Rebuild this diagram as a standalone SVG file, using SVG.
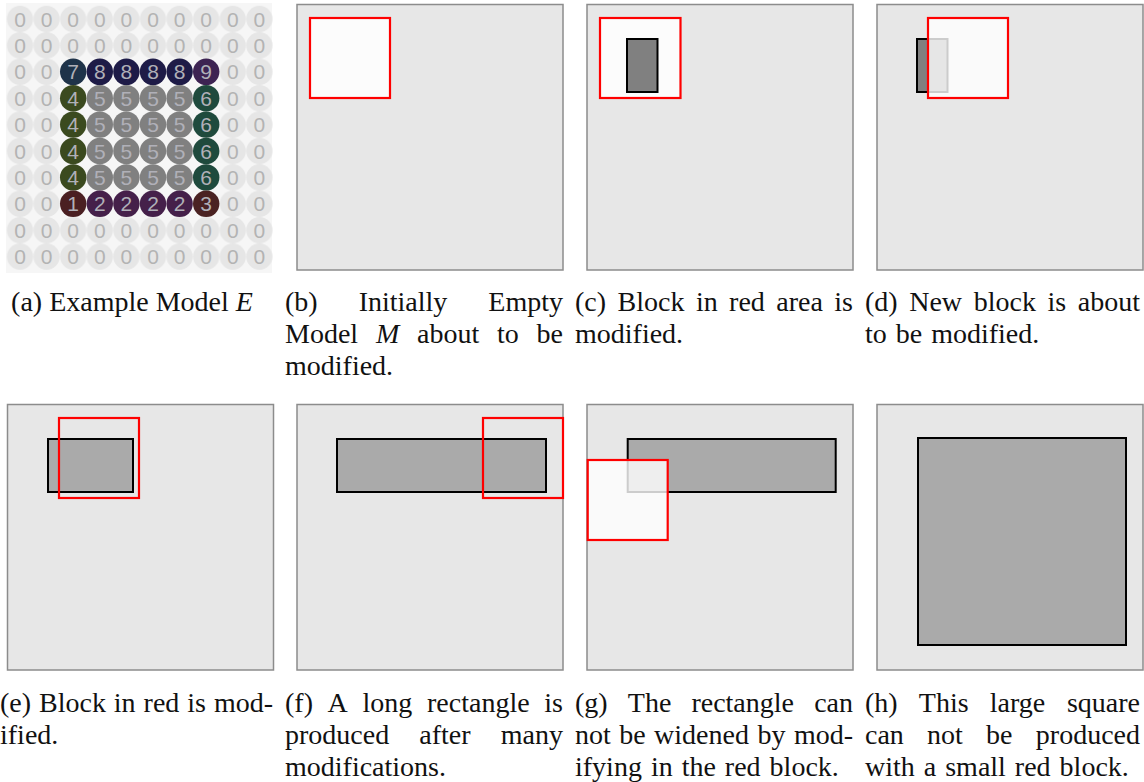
<svg xmlns="http://www.w3.org/2000/svg" width="1144" height="782" viewBox="0 0 1144 782">
<style>
.frame{fill:#e7e7e7;stroke:#8c8c8c;stroke-width:1.5}
.red{fill:none;stroke:#ff0000;stroke-width:2.2}
.redw{fill:#ffffff;fill-opacity:0.8;stroke:#ff0000;stroke-width:2.2}
.redf{fill:#fcfcfc;stroke:#ff0000;stroke-width:2.2}
.blk1{fill:#808080;stroke:#000;stroke-width:2}
.blk2{fill:#aaaaaa;stroke:#000;stroke-width:2}
.cap{font-family:"Liberation Serif","Times New Roman",serif;font-size:28px;fill:#111}
.ws{word-spacing:2px}
.dig{font-family:"Liberation Sans",Arial,sans-serif;font-size:21px;text-anchor:middle}
.zt{fill:#b3b3b3}
.ct{fill:#b0b0b8}
.c7{fill:#1f3349}.c8{fill:#1e1b47}.c9{fill:#3d2352}
.c4{fill:#3b4a1f}.c5{fill:#808080}.c6{fill:#1f4a3d}
.c1{fill:#4a1f22}.c2{fill:#45204a}.c3{fill:#4a2222}
</style>
<defs>
<pattern id="zp" patternUnits="userSpaceOnUse" x="6.7" y="5.8" width="26.6" height="26.4">
<circle cx="13.3" cy="13.2" r="13.1" fill="#e6e6e6"/>
</pattern>
</defs>

<g id="panel-a">
<rect x="6" y="3" width="266" height="270" fill="#f6f6f6"/>
<rect x="6.7" y="5.8" width="266" height="264" fill="url(#zp)"/>
<g>
<circle class="c7" cx="73.2" cy="71.8" r="13.2"/><circle class="c8" cx="99.8" cy="71.8" r="13.2"/><circle class="c8" cx="126.4" cy="71.8" r="13.2"/><circle class="c8" cx="153" cy="71.8" r="13.2"/><circle class="c8" cx="179.6" cy="71.8" r="13.2"/><circle class="c9" cx="206.2" cy="71.8" r="13.2"/>
<circle class="c4" cx="73.2" cy="98.2" r="13.2"/><circle class="c5" cx="99.8" cy="98.2" r="13.2"/><circle class="c5" cx="126.4" cy="98.2" r="13.2"/><circle class="c5" cx="153" cy="98.2" r="13.2"/><circle class="c5" cx="179.6" cy="98.2" r="13.2"/><circle class="c6" cx="206.2" cy="98.2" r="13.2"/>
<circle class="c4" cx="73.2" cy="124.6" r="13.2"/><circle class="c5" cx="99.8" cy="124.6" r="13.2"/><circle class="c5" cx="126.4" cy="124.6" r="13.2"/><circle class="c5" cx="153" cy="124.6" r="13.2"/><circle class="c5" cx="179.6" cy="124.6" r="13.2"/><circle class="c6" cx="206.2" cy="124.6" r="13.2"/>
<circle class="c4" cx="73.2" cy="151" r="13.2"/><circle class="c5" cx="99.8" cy="151" r="13.2"/><circle class="c5" cx="126.4" cy="151" r="13.2"/><circle class="c5" cx="153" cy="151" r="13.2"/><circle class="c5" cx="179.6" cy="151" r="13.2"/><circle class="c6" cx="206.2" cy="151" r="13.2"/>
<circle class="c4" cx="73.2" cy="177.4" r="13.2"/><circle class="c5" cx="99.8" cy="177.4" r="13.2"/><circle class="c5" cx="126.4" cy="177.4" r="13.2"/><circle class="c5" cx="153" cy="177.4" r="13.2"/><circle class="c5" cx="179.6" cy="177.4" r="13.2"/><circle class="c6" cx="206.2" cy="177.4" r="13.2"/>
<circle class="c1" cx="73.2" cy="203.8" r="13.2"/><circle class="c2" cx="99.8" cy="203.8" r="13.2"/><circle class="c2" cx="126.4" cy="203.8" r="13.2"/><circle class="c2" cx="153" cy="203.8" r="13.2"/><circle class="c2" cx="179.6" cy="203.8" r="13.2"/><circle class="c3" cx="206.2" cy="203.8" r="13.2"/>
</g>
<g class="dig">
<text x="20 46.6 73.2 99.8 126.4 153 179.6 206.2 232.8 259.4" y="26.6" class="zt">0000000000</text>
<text x="20 46.6 73.2 99.8 126.4 153 179.6 206.2 232.8 259.4" y="53" class="zt">0000000000</text>
<text x="20 46.6 73.2 99.8 126.4 153 179.6 206.2 232.8 259.4" y="79.4"><tspan class="zt">00</tspan><tspan class="ct">788889</tspan><tspan class="zt">00</tspan></text>
<text x="20 46.6 73.2 99.8 126.4 153 179.6 206.2 232.8 259.4" y="105.8"><tspan class="zt">00</tspan><tspan class="ct">455556</tspan><tspan class="zt">00</tspan></text>
<text x="20 46.6 73.2 99.8 126.4 153 179.6 206.2 232.8 259.4" y="132.2"><tspan class="zt">00</tspan><tspan class="ct">455556</tspan><tspan class="zt">00</tspan></text>
<text x="20 46.6 73.2 99.8 126.4 153 179.6 206.2 232.8 259.4" y="158.6"><tspan class="zt">00</tspan><tspan class="ct">455556</tspan><tspan class="zt">00</tspan></text>
<text x="20 46.6 73.2 99.8 126.4 153 179.6 206.2 232.8 259.4" y="185"><tspan class="zt">00</tspan><tspan class="ct">455556</tspan><tspan class="zt">00</tspan></text>
<text x="20 46.6 73.2 99.8 126.4 153 179.6 206.2 232.8 259.4" y="211.4"><tspan class="zt">00</tspan><tspan class="ct">122223</tspan><tspan class="zt">00</tspan></text>
<text x="20 46.6 73.2 99.8 126.4 153 179.6 206.2 232.8 259.4" y="237.8" class="zt">0000000000</text>
<text x="20 46.6 73.2 99.8 126.4 153 179.6 206.2 232.8 259.4" y="264.2" class="zt">0000000000</text>
</g>
<text class="cap" x="132" y="311" text-anchor="middle">(a) Example Model <tspan font-style="italic">E</tspan></text>
</g>

<g id="panel-b">
<rect class="frame" x="297" y="4.5" width="266" height="265.5"/>
<rect class="redf" x="310" y="18" width="80" height="80"/>
<text class="cap" y="311" x="285">(b)</text>
<text class="cap" y="311" x="358.65">Initially</text>
<text class="cap" y="311" x="563" text-anchor="end">Empty</text>
<text class="cap" y="343" x="285">Model</text>
<text class="cap" y="343" x="375.9" font-style="italic">M</text>
<text class="cap" y="343" x="417">about</text>
<text class="cap" y="343" x="497">to</text>
<text class="cap" y="343" x="563" text-anchor="end">be</text>
<text class="cap" y="375" x="285">modified.</text>
</g>

<g id="panel-c">
<rect class="frame" x="587" y="4.5" width="266" height="265.5"/>
<rect class="redf" x="600" y="18" width="80.5" height="80"/>
<rect class="blk1" x="627" y="39" width="30.5" height="53"/>
<text class="cap" y="311" x="575">(c)</text>
<text class="cap" y="311" x="617.5">Block</text>
<text class="cap" y="311" x="695.9">in</text>
<text class="cap" y="311" x="729.1">red</text>
<text class="cap" y="311" x="776.3">area</text>
<text class="cap" y="311" x="853" text-anchor="end">is</text>
<text class="cap" y="343" x="575">modified.</text>
</g>

<g id="panel-d">
<rect class="frame" x="877" y="4.5" width="266" height="265.5"/>
<rect class="blk1" x="917" y="39" width="30.5" height="53"/>
<rect class="redw" x="928" y="18" width="80" height="80"/>
<text class="cap" y="311" x="865">(d)</text>
<text class="cap" y="311" x="909.2">New</text>
<text class="cap" y="311" x="973.7">block</text>
<text class="cap" y="311" x="1047.5">is</text>
<text class="cap" y="311" x="1140" text-anchor="end">about</text>
<text class="cap ws" y="343" x="865">to be modified.</text>
</g>

<g id="panel-e">
<rect class="frame" x="7.5" y="404.5" width="266" height="265.5"/>
<rect class="blk2" x="48" y="439" width="85" height="53"/>
<rect class="red" x="59" y="418" width="80" height="80"/>
<text class="cap" y="712" x="0">(e)</text>
<text class="cap" y="712" x="39">Block</text>
<text class="cap" y="712" x="113.8">in</text>
<text class="cap" y="712" x="143.6">red</text>
<text class="cap" y="712" x="187.3">is</text>
<text class="cap" y="712" x="273" text-anchor="end">mod-</text>
<text class="cap" y="744" x="0">ified.</text>
</g>

<g id="panel-f">
<rect class="frame" x="297" y="404.5" width="266" height="265.5"/>
<rect class="blk2" x="337" y="439" width="209" height="53"/>
<rect class="red" x="483" y="418" width="80" height="80"/>
<text class="cap" y="712" x="285">(f)</text>
<text class="cap" y="712" x="327.6">A</text>
<text class="cap" y="712" x="362.5">long</text>
<text class="cap" y="712" x="427">rectangle</text>
<text class="cap" y="712" x="563" text-anchor="end">is</text>
<text class="cap" y="744" x="285">produced</text>
<text class="cap" y="744" x="419.3">after</text>
<text class="cap" y="744" x="563" text-anchor="end">many</text>
<text class="cap" y="776" x="285">modifications.</text>
</g>

<g id="panel-g">
<rect class="frame" x="587" y="404.5" width="266" height="265.5"/>
<rect class="blk2" x="627.7" y="439" width="208" height="53"/>
<rect class="redw" x="587.7" y="460" width="80" height="80"/>
<text class="cap" y="712" x="575">(g)</text>
<text class="cap" y="712" x="627.8">The</text>
<text class="cap" y="712" x="691.4">rectangle</text>
<text class="cap" y="712" x="853" text-anchor="end">can</text>
<text class="cap" y="744" x="575">not</text>
<text class="cap" y="744" x="619.2">be</text>
<text class="cap" y="744" x="654.1">widened</text>
<text class="cap" y="744" x="757.5">by</text>
<text class="cap" y="744" x="853" text-anchor="end">mod-</text>
<text class="cap ws" y="776" x="575">ifying in the red block.</text>
</g>

<g id="panel-h">
<rect class="frame" x="877" y="404.5" width="266" height="265.5"/>
<rect class="blk2" x="918" y="438" width="208" height="207"/>
<text class="cap" y="712" x="865">(h)</text>
<text class="cap" y="712" x="918.8">This</text>
<text class="cap" y="712" x="989.8">large</text>
<text class="cap" y="712" x="1140" text-anchor="end">square</text>
<text class="cap" y="744" x="865">can</text>
<text class="cap" y="744" x="927.1">not</text>
<text class="cap" y="744" x="986.1">be</text>
<text class="cap" y="744" x="1140" text-anchor="end">produced</text>
<text class="cap ws" y="776" x="865">with a small red block.</text>
</g>
</svg>
